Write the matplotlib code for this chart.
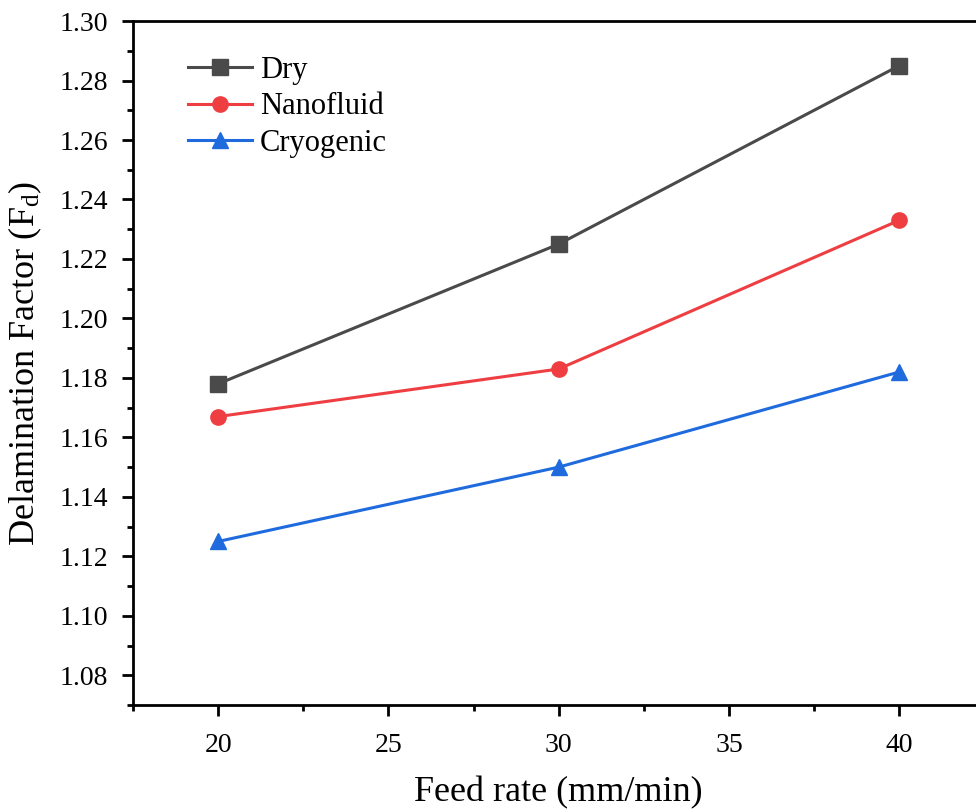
import matplotlib
matplotlib.use("Agg")
import matplotlib.pyplot as plt
from matplotlib.ticker import MultipleLocator, FormatStrFormatter

# data
feed = [20, 30, 40]
dry = [1.178, 1.225, 1.285]
nano = [1.167, 1.183, 1.233]
cryo = [1.125, 1.150, 1.182]

plt.rcParams['font.family'] = ['Liberation Serif', 'DejaVu Serif']
plt.rcParams['mathtext.fontset'] = 'custom'
plt.rcParams['mathtext.rm'] = 'Liberation Serif'
plt.rcParams['mathtext.it'] = 'Liberation Serif:italic'

fig = plt.figure(figsize=(9.76, 8.10), dpi=100)
ax = fig.add_axes([0.1363, 0.1296, 0.8723, 0.8444])

ax.plot(feed, dry, color='#4a4a4a', lw=2.2, marker='s', ms=11, label='Dry')
ax.plot(feed, nano, color='#ef3e42', lw=2.2, marker='o', ms=11, label='Nanofluid')
ax.plot(feed, cryo, color='#1f6bde', lw=2.2, marker='^', ms=12, label='Cryogenic')

ax.set_xlim(17.5, 42.5)
ax.set_ylim(1.07, 1.30)
ax.xaxis.set_major_locator(MultipleLocator(5))
ax.xaxis.set_minor_locator(MultipleLocator(2.5))
ax.yaxis.set_minor_locator(MultipleLocator(0.01))
ax.set_yticks([1.08 + 0.02*i for i in range(12)])
ax.yaxis.set_major_formatter(FormatStrFormatter('%.2f'))

for s in ax.spines.values():
    s.set_linewidth(2)
ax.tick_params(which='major', direction='out', length=8, width=2, labelsize=20)
ax.tick_params(which='minor', direction='out', length=4.5, width=2)
ax.tick_params(axis='y', which='major', pad=10)
ax.tick_params(axis='x', which='major', pad=12)

ax.set_xlabel('Feed rate (mm/min)', fontsize=26, labelpad=13)
ax.set_ylabel('Delamination Factor (F$_\\mathrm{d}$)', fontsize=26, labelpad=11)

ax.legend(loc='upper left', bbox_to_anchor=(0.0646, 0.949), frameon=False, fontsize=22,
          borderpad=0, borderaxespad=0,
          handlelength=2.1, handletextpad=0.26, labelspacing=0.24)

fig.savefig('out.png', dpi=100)
